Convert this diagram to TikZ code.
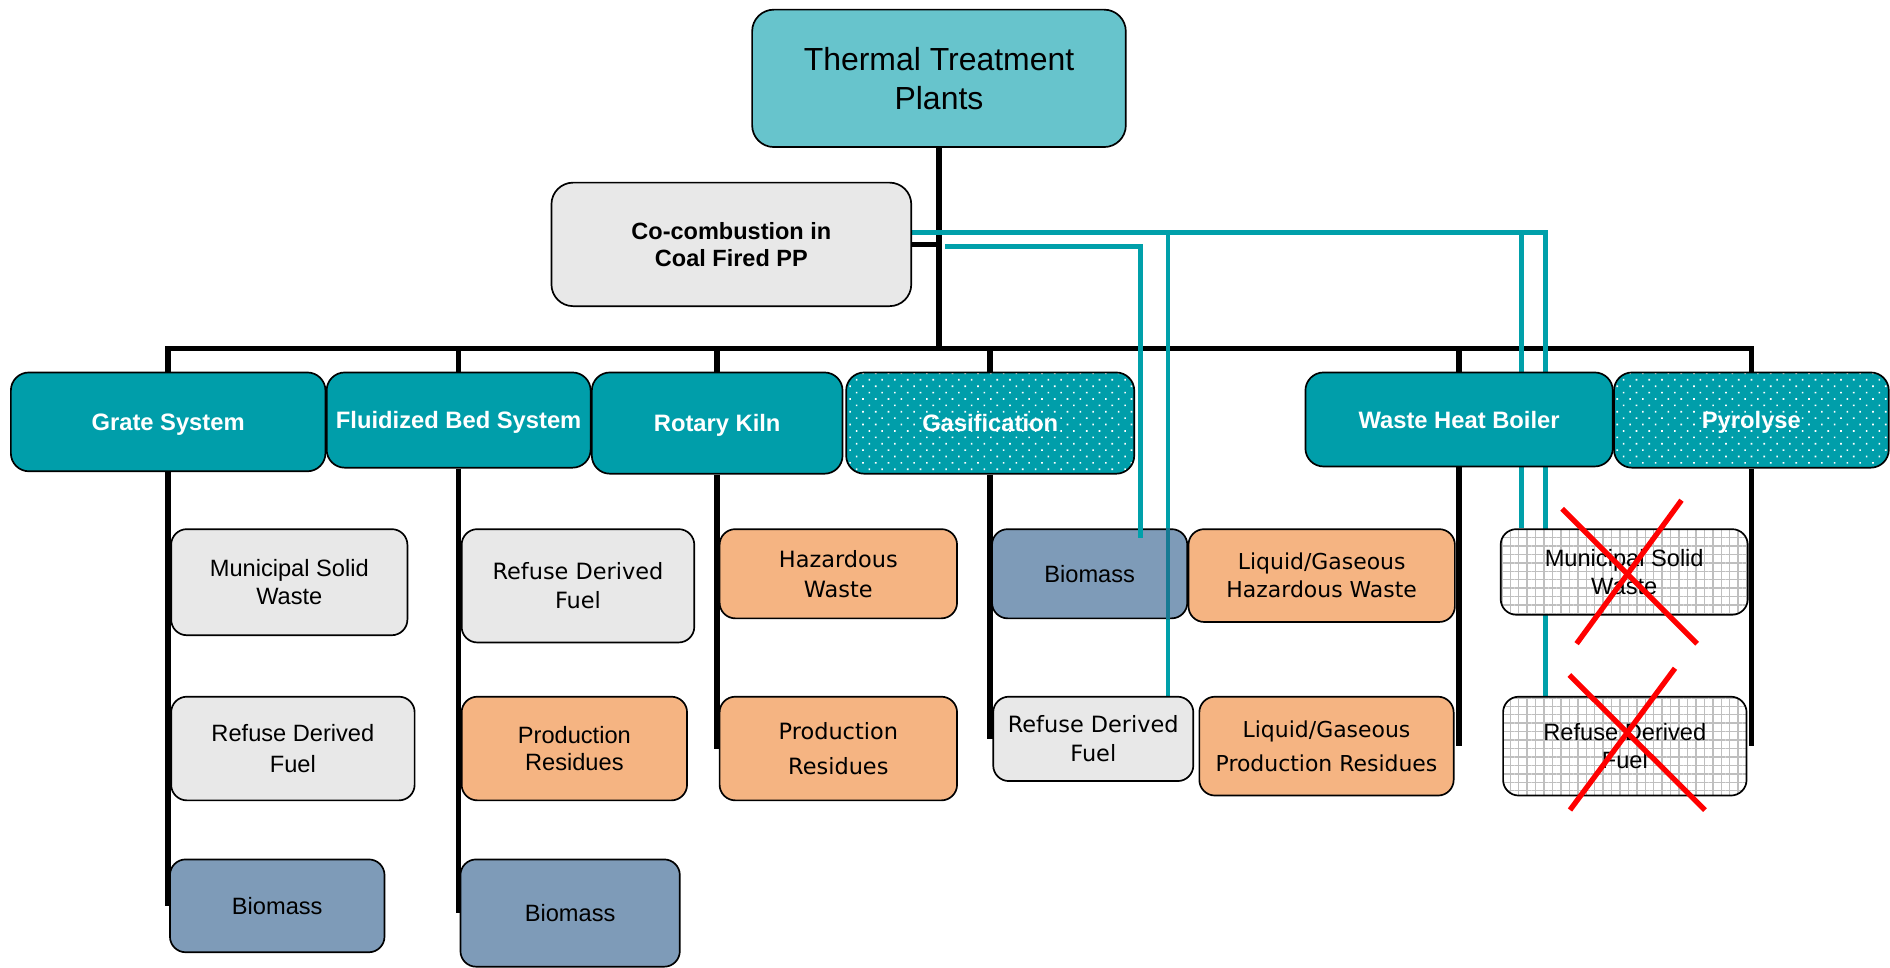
\documentclass[tikz,border=0pt]{standalone}
\usepackage{fontspec}
\setmainfont{Liberation Sans}
\newfontfamily\vfont{DejaVu Sans}
\usetikzlibrary{patterns.meta,calc}
\pgfdeclarelayer{blines}
\pgfdeclarelayer{tlines}
\pgfsetlayers{blines,tlines,main}
\definecolor{topc}{HTML}{67C4CC}
\definecolor{tealbox}{HTML}{009EAA}
\definecolor{tealline}{HTML}{00A0AA}
\definecolor{tealdark}{HTML}{167A93}
\definecolor{lgray}{HTML}{E8E8E8}
\definecolor{orangec}{HTML}{F5B482}
\definecolor{bluec}{HTML}{7E9BB8}
\tikzset{
  box/.style={draw=black, line width=1.4pt, rounded corners=13pt, align=center, inner sep=0pt},
  topbox/.style={box, fill=topc, rounded corners=18pt, font=\fontsize{26.5}{32}\selectfont},
  cobox/.style={box, fill=lgray, rounded corners=18pt, font=\bfseries\fontsize{19.5}{22}\selectfont},
  lvl/.style={box, rounded corners=15pt, text=white, text depth=0pt, font=\bfseries\fontsize{19.7}{23}\selectfont},
  lvlfill/.style={lvl, fill=tealbox},
  lvldots/.style={lvl, preaction={fill=tealbox}, pattern={Dots[distance=7.5pt, radius=0.95pt, angle=45]}, pattern color=white},
  afont/.style={font=\fontsize{19.6}{23}\selectfont},
  vfnt/.style={font=\vfont\fontsize{18.6}{24}\selectfont},
  graybox/.style={box, fill=lgray},
  orbox/.style={box, fill=orangec},
  bluebox/.style={box, fill=bluec},
  xbox/.style={box, preaction={fill=white}, pattern={Hatch[angle=0, distance=7pt, line width=1.2pt]}, pattern color=black!25},
  bl/.style={draw=black, line width=4.6pt},
  tl/.style={draw=tealline, line width=4pt},
  tld/.style={draw=tealdark, line width=4pt},
  rx/.style={draw=red, line width=4.4pt},
}
\begin{document}
\begin{tikzpicture}[x=1pt, y=-1pt]
\useasboundingbox (0,0) rectangle (1568,803);
% top
\node[topbox, minimum width=310pt, minimum height=114pt] (top) at (779,65) {Thermal Treatment\\Plants};
\node[cobox, minimum width=298.5pt, minimum height=102.5pt] (cocomb) at (606.75,202.75) {Co-combustion in\\Coal Fired PP};
% level 2
\node[lvlfill, minimum width=261pt, minimum height=82pt] (grate) at (139.5,350) {Grate System};
\node[lvlfill, minimum width=219pt, minimum height=79pt] (fbs) at (380.5,348.5) {Fluidized Bed System};
\node[lvlfill, minimum width=208pt, minimum height=84pt] (rk) at (595,351) {Rotary Kiln};
\node[lvldots, minimum width=239pt, minimum height=84pt] (gas) at (821.5,351) {Gasification};
\node[lvlfill, minimum width=255pt, minimum height=78pt] (whb) at (1210.5,348) {Waste Heat Boiler};
\node[lvldots, minimum width=228pt, minimum height=79pt] (pyro) at (1453,348.5) {Pyrolyse};
% grate children
\node[graybox, afont, minimum width=196pt, minimum height=88pt] (msw1) at (240,483) {Municipal Solid\\Waste};
\node[graybox, font=\fontsize{19.6}{26}\selectfont, minimum width=202pt, minimum height=86pt] (rdf1) at (243,621) {Refuse Derived\\Fuel};
\node[bluebox, afont, minimum width=178pt, minimum height=77pt] (bio1) at (230,751.5) {Biomass};
% fluidized children
\node[graybox, vfnt, minimum width=193pt, minimum height=94pt] (rdf2) at (479.5,486) {Refuse Derived\\Fuel};
\node[orbox, afont, minimum width=187pt, minimum height=86pt] (pr2) at (476.5,621) {Production\\Residues};
\node[bluebox, afont, minimum width=182pt, minimum height=89pt] (bio2) at (473,757.5) {Biomass};
% rotary kiln children
\node[orbox, font=\vfont\fontsize{18.6}{25}\selectfont, minimum width=197pt, minimum height=74pt] (hw3) at (695.5,476) {Hazardous\\Waste};
\node[orbox, font=\vfont\fontsize{18.6}{29}\selectfont, minimum width=197pt, minimum height=86pt] (pr3) at (695.5,621) {Production\\Residues};
% gasification children
\node[bluebox, afont, minimum width=162pt, minimum height=74pt] (bio4) at (904,476) {Biomass};
\node[graybox, vfnt, minimum width=166pt, minimum height=70pt] (rdf4) at (907,613) {Refuse Derived\\Fuel};
% waste heat boiler children
\node[orbox, font=\vfont\fontsize{18.2}{23}\selectfont, minimum width=221pt, minimum height=77pt] (lgh) at (1096.5,477.5) {Liquid/Gaseous\\Hazardous Waste};
\node[orbox, font=\vfont\fontsize{18.2}{28}\selectfont, minimum width=211pt, minimum height=82pt] (lgp) at (1100.5,619) {Liquid/Gaseous\\Production Residues};
% pyrolyse children
\node[xbox, afont, minimum width=205pt, minimum height=71pt] (xmsw) at (1347.5,474.5) {Municipal Solid\\Waste};
\node[xbox, afont, minimum width=202pt, minimum height=82pt] (xrdf) at (1348,619) {Refuse Derived\\Fuel};
% helper coordinates
\coordinate (bus) at (779,289);
\coordinate (tj) at (cocomb.east -| top.south);
\coordinate (t1) at ([yshift=10pt]cocomb.east);
\coordinate (t2) at ([xshift=5pt,yshift=-2pt]tj);
\coordinate (c947) at ([xshift=42.5pt,yshift=-8pt]bio4.north);
\coordinate (c969) at ([xshift=62pt]rdf4.north);
\coordinate (c1262) at ([xshift=-85.5pt]xmsw.north);
\coordinate (c1282) at ([xshift=-66pt]xrdf.north);
% black tree
\begin{pgfonlayer}{blines}
\draw[bl] (top.south) -- (bus);
\draw[bl] (grate.north) -- (grate.north |- bus) -- (pyro.north |- bus) -- (pyro.north);
\foreach \n in {fbs,rk,gas,whb} \draw[bl] (\n.north |- bus) -- (\n.north);
\draw[bl] (cocomb.east) -- (tj);
\draw[bl] (grate.south) -- (grate.south |- bio1.center);
\draw[bl] (fbs.south) -- (fbs.south |- bio2.center);
\draw[bl] (rk.south) -- (rk.south |- pr3.center);
\draw[bl] (gas.south) -- (gas.south |- rdf4.center);
\draw[bl] (whb.south) -- (whb.south |- lgp.center);
\draw[bl] (pyro.south) -- (pyro.south |- xrdf.center);
\end{pgfonlayer}
% teal connections under boxes
\begin{pgfonlayer}{tlines}
\draw[tl] (t1) -| (c1282);
\draw[tl] (c1262 |- t1) -- (c1262);
\draw[tl] (c969 |- t1) -- (c969);
\end{pgfonlayer}
% teal over boxes
\draw[tl] (t2) -| (c947);
\draw[tld] (c969 |- bio4.north) -- (c969 |- bio4.south);
% red crosses
\draw[rx] ($(xmsw.center)+(-51.5,-52.5)$) -- ($(xmsw.center)+(60.5,59.5)$);
\draw[rx] ($(xmsw.center)+(47.5,-59.5)$) -- ($(xmsw.center)+(-39.5,59.5)$);
\draw[rx] ($(xrdf.center)+(-46,-59)$) -- ($(xrdf.center)+(66.5,53)$);
\draw[rx] ($(xrdf.center)+(41.6,-64.6)$) -- ($(xrdf.center)+(-45.5,53)$);
\end{tikzpicture}
\end{document}
